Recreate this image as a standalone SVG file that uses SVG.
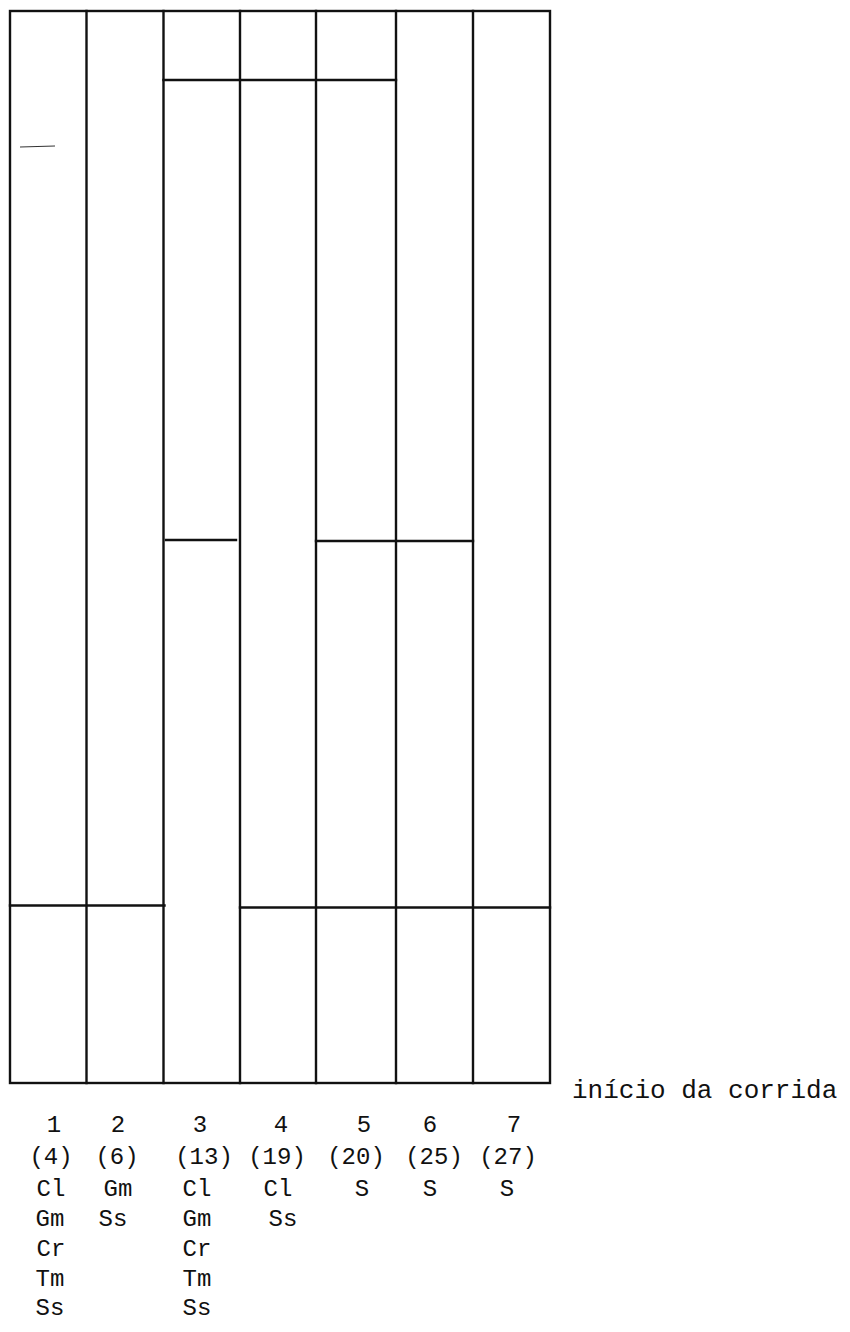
<svg xmlns="http://www.w3.org/2000/svg" width="850" height="1332" viewBox="0 0 850 1332">
<style>
.ln{stroke:#111;stroke-width:2.4;fill:none;stroke-linecap:square}
.t{font-family:"Liberation Mono","DejaVu Sans Mono",monospace;font-size:24px;fill:#111;text-anchor:middle}
.cap{font-family:"Liberation Mono","DejaVu Sans Mono",monospace;font-size:26px;fill:#111}
</style>
<rect width="850" height="1332" fill="#fff"/>
<g id="frame">
<rect class="ln" x="10" y="11" width="540" height="1072"/>
</g>
<g id="connectors">
<line class="ln" x1="86.5" y1="11" x2="86.5" y2="1083"/>
<line class="ln" x1="163.5" y1="11" x2="163.5" y2="1083"/>
<line class="ln" x1="240" y1="11" x2="240" y2="1083"/>
<line class="ln" x1="316" y1="11" x2="316" y2="1083"/>
<line class="ln" x1="396" y1="11" x2="396" y2="1083"/>
<line class="ln" x1="473" y1="11" x2="473" y2="1083"/>
<line class="ln" x1="163.5" y1="80" x2="396" y2="80"/>
<line class="ln" x1="166" y1="540" x2="236" y2="540"/>
<line class="ln" x1="316" y1="541" x2="473" y2="541"/>
<line class="ln" x1="10" y1="905.5" x2="164.5" y2="905.5"/>
<line class="ln" x1="240" y1="907.5" x2="550" y2="907.5"/>
<line x1="20" y1="147" x2="55" y2="146" stroke="#333" stroke-width="1.2"/>
</g>
<g id="caption">
<text class="cap" x="572" y="1098">início da corrida</text>
</g>
<g id="col1">
<text class="t" x="54" y="1132">1</text>
<text class="t" x="51" y="1164">(4)</text>
<text class="t" x="51" y="1196">Cl</text>
<text class="t" x="50" y="1226">Gm</text>
<text class="t" x="51" y="1256">Cr</text>
<text class="t" x="50" y="1286">Tm</text>
<text class="t" x="50" y="1315">Ss</text>
</g>
<g id="col2">
<text class="t" x="118" y="1132">2</text>
<text class="t" x="117" y="1164">(6)</text>
<text class="t" x="118" y="1196">Gm</text>
<text class="t" x="113" y="1226">Ss</text>
</g>
<g id="col3">
<text class="t" x="200" y="1132">3</text>
<text class="t" x="204" y="1164">(13)</text>
<text class="t" x="197" y="1196">Cl</text>
<text class="t" x="197" y="1226">Gm</text>
<text class="t" x="197" y="1256">Cr</text>
<text class="t" x="197" y="1286">Tm</text>
<text class="t" x="197" y="1315">Ss</text>
</g>
<g id="col4">
<text class="t" x="281" y="1132">4</text>
<text class="t" x="277" y="1164">(19)</text>
<text class="t" x="278" y="1196">Cl</text>
<text class="t" x="283" y="1226">Ss</text>
</g>
<g id="col5">
<text class="t" x="364" y="1132">5</text>
<text class="t" x="356" y="1164">(20)</text>
<text class="t" x="362" y="1196">S</text>
</g>
<g id="col6">
<text class="t" x="430" y="1132">6</text>
<text class="t" x="434" y="1164">(25)</text>
<text class="t" x="430" y="1196">S</text>
</g>
<g id="col7">
<text class="t" x="514" y="1132">7</text>
<text class="t" x="508" y="1164">(27)</text>
<text class="t" x="507" y="1196">S</text>
</g>
</svg>
